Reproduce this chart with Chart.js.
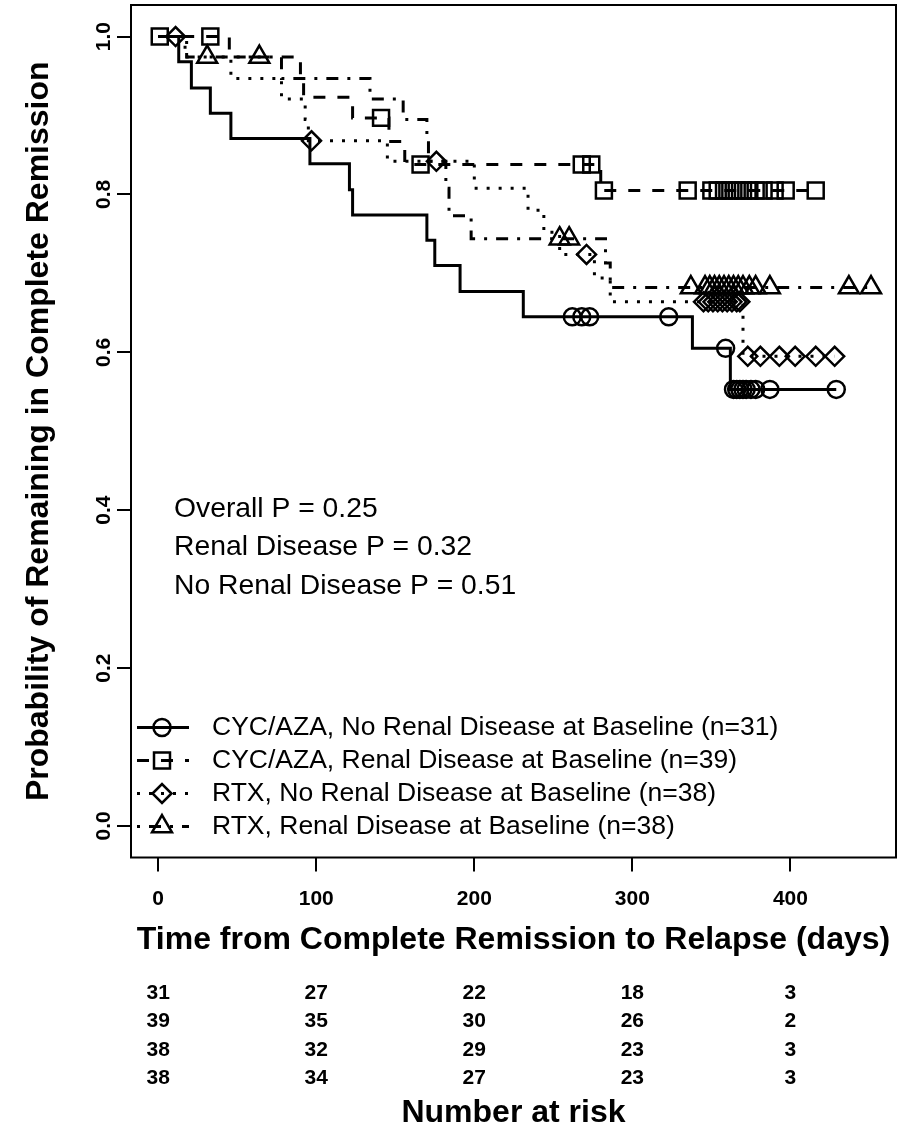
<!DOCTYPE html>
<html><head><meta charset="utf-8">
<script src="https://cdn.jsdelivr.net/npm/chart.js@4.4.1/dist/chart.umd.min.js"></script>
<style>html,body{margin:0;padding:0;background:#fff}canvas{display:block}</style>
</head><body>
<canvas id="c" width="905" height="1130"></canvas>
<script>
// ---------- data ----------
const xTicks = [0, 100, 200, 300, 400];
const yTicks = [0, 0.2, 0.4, 0.6, 0.8, 1.0];
const yTickLabels = ['0.0', '0.2', '0.4', '0.6', '0.8', '1.0'];

const seriesNames = [
  'CYC/AZA, No Renal Disease at Baseline (n=31)',
  'CYC/AZA, Renal Disease at Baseline (n=39)',
  'RTX, No Renal Disease at Baseline (n=38)',
  'RTX, Renal Disease at Baseline (n=38)'
];

// CYC/AZA, no renal disease (solid, circles)
const s1Times = [0, 13, 21, 33, 46, 96, 121, 123, 170, 175, 191, 231, 338, 362, 429];
const s1Surv  = [1, 0.968, 0.935, 0.903, 0.871, 0.839, 0.806, 0.774, 0.742, 0.710, 0.677, 0.645, 0.605, 0.553, 0.553];
const s1Cens  = [262, 268, 273, 323, 359, 364, 366, 368, 370, 372, 375, 378, 387, 429];

// CYC/AZA, renal disease (dashed, squares)
const s2Times = [0, 45, 90, 92, 123, 146, 156, 280, 416];
const s2Surv  = [1, 0.974, 0.949, 0.923, 0.897, 0.867, 0.838, 0.805, 0.805];
const s2Cens  = [1, 33, 141, 166, 268, 274, 282, 335, 350, 354, 358, 362, 366, 370, 374, 378, 383, 390, 397, 416];

// RTX, no renal disease (dotted, diamonds)
const s3Times = [0, 17, 46, 78, 93, 95, 145, 200, 234, 244, 254, 276, 286, 370, 428];
const s3Surv  = [1, 0.974, 0.947, 0.921, 0.895, 0.868, 0.842, 0.808, 0.780, 0.752, 0.724, 0.694, 0.664, 0.595, 0.595];
const s3Cens  = [11, 97, 176, 271, 345, 348, 351, 354, 357, 360, 363, 366, 368, 373, 381, 393, 403, 416, 428];

// RTX, renal disease (dot-dash, triangles)
const s4Times = [0, 18, 78, 134, 155, 170, 171, 182, 184, 198, 283, 286, 451];
const s4Surv  = [1, 0.974, 0.947, 0.921, 0.895, 0.868, 0.842, 0.808, 0.773, 0.744, 0.713, 0.682, 0.682];
const s4Cens  = [31, 64, 254, 260, 337, 346, 349, 352, 355, 358, 361, 364, 367, 370, 374, 378, 387, 437, 451];

const riskRows = [
  [31, 27, 22, 18, 3],
  [39, 35, 30, 26, 2],
  [38, 32, 29, 23, 3],
  [38, 34, 27, 23, 3]
];
const pTexts = ['Overall P = 0.25', 'Renal Disease P = 0.32', 'No Renal Disease P = 0.51'];
const xTitle = 'Time from Complete Remission to Relapse (days)';
const yTitle = 'Probability of Remaining in Complete Remission';
const riskTitle = 'Number at risk';

// ---------- build ----------
const FONT = '"Liberation Sans", Arial, Helvetica, sans-serif';
const LW = 3;
const styles = [
  { dash: [], point: 'circle', r: 8.5 },
  { dash: [12, 12], point: 'rect', r: 11.3 },
  { dash: [3, 9], point: 'rectRot', r: 9.5 },
  { dash: [3, 9, 12, 9], point: 'triangle', r: 11.5 }
];
const sets = [
  [s1Times, s1Surv, s1Cens],
  [s2Times, s2Surv, s2Cens],
  [s3Times, s3Surv, s3Cens],
  [s4Times, s4Surv, s4Cens]
];
function survAt(times, surv, t) {
  let v = surv[0];
  for (let i = 0; i < times.length; i++) if (times[i] <= t) v = surv[i];
  return v;
}
const datasets = [];
sets.forEach(([t, s, c], k) => {
  datasets.push({
    label: seriesNames[k],
    data: t.map((x, i) => ({ x: x, y: s[i] })),
    stepped: true,
    borderColor: '#000',
    borderWidth: LW,
    borderDash: styles[k].dash,
    borderCapStyle: 'butt',
    pointRadius: 0,
    fill: false
  });
  datasets.push({
    label: seriesNames[k] + ' censored',
    data: c.map(x => ({ x: x, y: survAt(t, s, x) })),
    showLine: false,
    pointStyle: styles[k].point,
    pointRadius: styles[k].r,
    pointBorderWidth: 2.5,
    pointBorderColor: '#000',
    pointBackgroundColor: 'rgba(0,0,0,0)'
  });
});

const decor = {
  id: 'decor',
  afterDraw(chart) {
    const ctx = chart.ctx;
    const a = chart.chartArea;
    const xs = chart.scales.x, ys = chart.scales.y;
    ctx.save();
    // box
    ctx.strokeStyle = '#000';
    ctx.lineWidth = 2;
    ctx.setLineDash([]);
    ctx.strokeRect(a.left, a.top, a.right - a.left, a.bottom - a.top);

    ctx.fillStyle = '#000';
    // x tick labels
    ctx.font = 'bold 21px ' + FONT;
    ctx.textAlign = 'center';
    ctx.textBaseline = 'middle';
    xTicks.forEach(v => ctx.fillText(String(v), xs.getPixelForValue(v), 899));
    // y tick labels (rotated)
    yTicks.forEach((v, i) => {
      ctx.save();
      ctx.translate(104, ys.getPixelForValue(v));
      ctx.rotate(-Math.PI / 2);
      ctx.fillText(yTickLabels[i], 0, 0);
      ctx.restore();
    });
    // titles
    ctx.font = 'bold 32px ' + FONT;
    ctx.fillText(xTitle, (a.left + a.right) / 2, 940);
    ctx.save();
    ctx.translate(39, (a.top + a.bottom) / 2);
    ctx.rotate(-Math.PI / 2);
    ctx.fillText(yTitle, 0, 0);
    ctx.restore();
    // risk table
    ctx.font = 'bold 21px ' + FONT;
    riskRows.forEach((row, r) => {
      row.forEach((n, j) => ctx.fillText(String(n), xs.getPixelForValue(xTicks[j]), 993 + r * 28.4));
    });
    ctx.font = 'bold 32px ' + FONT;
    ctx.fillText(riskTitle, (a.left + a.right) / 2, 1113);

    // p-value annotation
    ctx.font = '28.3px ' + FONT;
    ctx.textAlign = 'left';
    pTexts.forEach((t, i) => ctx.fillText(t, 174, 509 + i * 38.5));

    // legend
    ctx.font = '26.5px ' + FONT;
    seriesNames.forEach((name, k) => {
      const y = 727.5 + k * 33;
      ctx.lineWidth = LW;
      ctx.lineCap = 'butt';
      ctx.setLineDash(styles[k].dash);
      ctx.beginPath();
      ctx.moveTo(137, y);
      ctx.lineTo(189, y);
      ctx.stroke();
      ctx.setLineDash([]);
      ctx.lineWidth = 2.5;
      ctx.fillStyle = 'rgba(0,0,0,0)';
      Chart.helpers.drawPoint(ctx, { pointStyle: styles[k].point, radius: styles[k].r, borderWidth: 2.5, rotation: 0 }, 162, y);
      ctx.fillStyle = '#000';
      ctx.fillText(name, 212, y);
    });
    ctx.restore();
  }
};

new Chart(document.getElementById('c'), {
  type: 'line',
  data: { datasets },
  options: {
    responsive: false,
    animation: false,
    devicePixelRatio: 1,
    layout: { autoPadding: false, padding: { top: 5, right: 9, left: 0, bottom: 0 } },
    plugins: { legend: { display: false }, tooltip: { enabled: false } },
    scales: {
      x: {
        type: 'linear', min: -17.2, max: 466.8,
        afterBuildTicks: s => { s.ticks = xTicks.map(v => ({ value: v })); },
        afterFit: s => { s.height = 1130 - 857.5; },
        ticks: { display: false },
        grid: { drawOnChartArea: false, drawTicks: true, tickLength: 14, color: '#000', lineWidth: 2 },
        border: { display: false }
      },
      y: {
        type: 'linear', min: -0.04, max: 1.04,
        afterBuildTicks: s => { s.ticks = yTicks.map(v => ({ value: v })); },
        afterFit: s => { s.width = 131; },
        ticks: { display: false },
        grid: { drawOnChartArea: false, drawTicks: true, tickLength: 14, color: '#000', lineWidth: 2 },
        border: { display: false }
      }
    }
  },
  plugins: [decor]
});
</script>
</body></html>
